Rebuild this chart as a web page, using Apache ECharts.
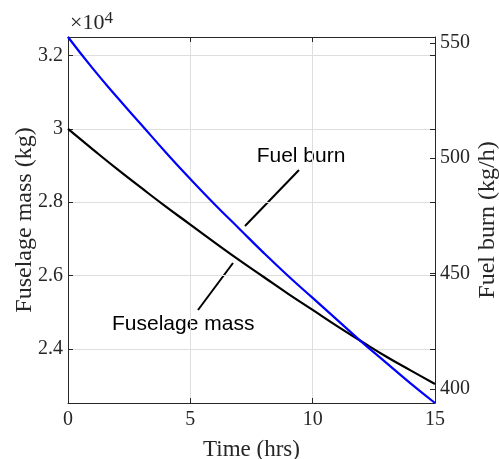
<!DOCTYPE html>
<html>
<head>
<meta charset="utf-8">
<script src="https://cdn.jsdelivr.net/npm/echarts@6/dist/echarts.min.js"></script>
<style>
  html, body { margin: 0; padding: 0; background: #fff; }
  #chart { width: 499px; height: 459px; }
</style>
</head>
<body>
<div id="chart"></div>
<script>
// values, one per hour
const hours = [0, 1, 2, 3, 4, 5, 6, 7, 8, 9, 10, 11, 12, 13, 14, 15]
const fuselageMass = [30000, 29450, 28910, 28390, 27880, 27390, 26900, 26420, 25960, 25500, 25060, 24620, 24200, 23790, 23410, 23040] // kg
const fuelBurn = [552.5, 539, 526.5, 514.5, 502.5, 491, 480, 469.5, 459, 449, 439.5, 430, 420.5, 411.5, 402.5, 394] // kg/h
const xTicks = [0, 5, 10, 15]
const massTicks = [2.4, 2.6, 2.8, 3, 3.2] // x 10^4 kg
const burnTicks = [400, 450, 500, 550]

const serif = 'Liberation Serif'
const sans = 'Liberation Sans'
const boxColor = '#262626'
const gridColor = '#dedede'

let chart = echarts.init(document.getElementById('chart'))

let boxLine = { show: true, onZero: false, lineStyle: { color: boxColor, width: 1 } }

let options = {
  animation: false,
  grid: { left: 68, right: 64, top: 37, bottom: 56, outerBoundsMode: 'none', containLabel: false },
  xAxis: [
    {
      type: 'value',
      min: xTicks[0],
      max: xTicks[xTicks.length - 1],
      interval: 5,
      name: 'Time (hrs)',
      nameLocation: 'middle',
      nameGap: 35,
      nameMoveOverlap: false,
      nameTextStyle: { fontFamily: serif, fontSize: 23, color: '#262626' },
      axisLine: boxLine,
      axisTick: { inside: true, length: 5, lineStyle: { color: boxColor } },
      axisLabel: { fontFamily: serif, fontSize: 20, color: '#262626', margin: 7 },
      splitLine: { show: true, lineStyle: { color: gridColor, width: 1 } }
    },
    {
      type: 'value',
      position: 'top',
      min: xTicks[0],
      max: xTicks[xTicks.length - 1],
      interval: 5,
      axisLine: boxLine,
      axisTick: { inside: true, length: 5, lineStyle: { color: boxColor } },
      axisLabel: { show: false },
      splitLine: { show: false }
    }
  ],
  yAxis: [
    {
      type: 'value',
      position: 'left',
      min: 2.252,
      max: 3.251,
      name: 'Fuselage mass (kg)',
      nameLocation: 'middle',
      nameRotate: 90,
      nameGap: 31,
      nameMoveOverlap: false,
      nameTextStyle: { fontFamily: serif, fontSize: 24, color: '#262626' },
      axisLine: boxLine,
      axisTick: { show: true, inside: true, length: 5, customValues: massTicks, lineStyle: { color: boxColor } },
      axisLabel: { fontFamily: serif, fontSize: 20, color: '#262626', margin: 5, customValues: massTicks },
      splitLine: { show: true, lineStyle: { color: gridColor, width: 1 } }
    },
    {
      type: 'value',
      position: 'right',
      min: 394,
      max: 552.5,
      name: 'Fuel burn (kg/h)',
      nameLocation: 'middle',
      nameRotate: 90,
      nameGap: 41,
      nameMoveOverlap: false,
      nameTextStyle: { fontFamily: serif, fontSize: 24, color: '#262626' },
      axisLine: boxLine,
      axisTick: { show: true, inside: true, length: 5, customValues: burnTicks, lineStyle: { color: boxColor } },
      axisLabel: { fontFamily: serif, fontSize: 20, color: '#262626', margin: 5, customValues: burnTicks },
      splitLine: { show: false }
    },
    {
      // left axis ticks mirrored on the right edge of the box
      type: 'value',
      position: 'right',
      min: 2.252,
      max: 3.251,
      axisLine: { show: false, onZero: false },
      axisTick: { show: true, inside: true, length: 5, customValues: massTicks, lineStyle: { color: boxColor } },
      axisLabel: { show: false },
      splitLine: { show: false }
    }
  ],
  series: [
    {
      name: 'Fuselage mass',
      type: 'line',
      xAxisIndex: 0,
      yAxisIndex: 0,
      showSymbol: false,
      smooth: true,
      lineStyle: { color: '#000', width: 2.2 },
      data: hours.map((t, i) => [t, fuselageMass[i] / 1e4]),
      z: 3
    },
    {
      name: 'Fuel burn',
      type: 'line',
      xAxisIndex: 0,
      yAxisIndex: 1,
      showSymbol: false,
      smooth: true,
      lineStyle: { color: '#0000ff', width: 2.2 },
      data: hours.map((t, i) => [t, fuelBurn[i]]),
      z: 4
    }
  ],
  graphic: [
    {
      type: 'text',
      left: 70,
      top: 10,
      style: {
        text: '×10{sup|4}',
        fontFamily: serif,
        fontSize: 22,
        fill: '#262626',
        rich: { sup: { fontFamily: serif, fontSize: 17, fill: '#262626', verticalAlign: 'top', padding: [0, 0, 9, 0] } }
      }
    },
    {
      type: 'text',
      x: 301,
      y: 156,
      style: { text: 'Fuel burn', fontFamily: sans, fontSize: 21, fill: '#000', align: 'center', verticalAlign: 'middle' }
    },
    {
      type: 'line',
      shape: { x1: 299, y1: 170, x2: 245, y2: 226 },
      style: { stroke: '#000', lineWidth: 2 }
    },
    {
      type: 'text',
      x: 112,
      y: 324,
      style: { text: 'Fuselage mass', fontFamily: sans, fontSize: 21, fill: '#000', align: 'left', verticalAlign: 'middle' }
    },
    {
      type: 'line',
      shape: { x1: 233, y1: 263, x2: 198, y2: 310 },
      style: { stroke: '#000', lineWidth: 2 }
    }
  ]
}

chart.setOption(options)
</script>
</body>
</html>
